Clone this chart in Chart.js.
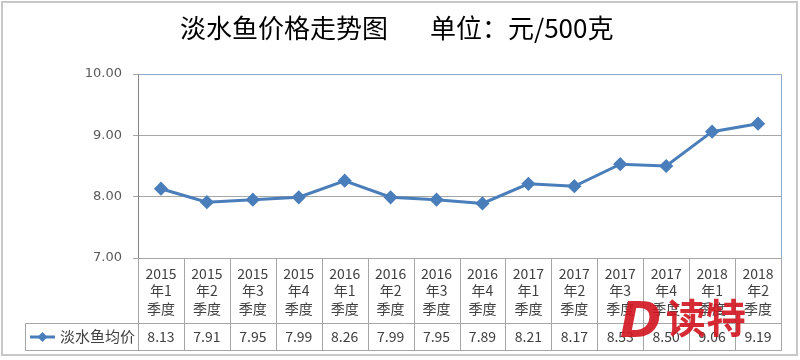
<!DOCTYPE html>
<html>
<head>
<meta charset="utf-8">
<script src="https://cdn.jsdelivr.net/npm/chart.js@4"></script>
<style>
  html, body { margin: 0; padding: 0; background: #fff; }
  #wrap { width: 800px; height: 360px; position: relative; }
</style>
</head>
<body>
<div id="wrap"><canvas id="fishChart" width="800" height="360"></canvas></div>
<script>
// 数据
const years = ['2015', '2015', '2015', '2015', '2016', '2016', '2016', '2016', '2017', '2017', '2017', '2017', '2018', '2018'];
const quarters = ['年1', '年2', '年3', '年4', '年1', '年2', '年3', '年4', '年1', '年2', '年3', '年4', '年1', '年2'];
const seriesName = '淡水鱼均价';
const prices = [8.13, 7.91, 7.95, 7.99, 8.26, 7.99, 7.95, 7.89, 8.21, 8.17, 8.53, 8.50, 9.06, 9.19];
const yTicks = [7, 8, 9, 10];
const titleMain = '淡水鱼价格走势图';
const titleUnit = '单位：元/500克';

const lineColor = '#4A7EBB';
const gridColor = '#A6A6A6';
const textColor = '#404040';
const cjkFont = '"Noto Sans CJK SC", "Noto Sans", sans-serif';

// Plugin: fondo, marco, título, tabla de datos y marca de agua
const tablePlugin = {
  id: 'tablePlugin',
  beforeDraw(chart) {
    const ctx = chart.ctx;
    ctx.save();
    ctx.fillStyle = '#fff';
    ctx.fillRect(0, 0, chart.width, chart.height);
    ctx.restore();
  },
  afterDraw(chart) {
    const ctx = chart.ctx;
    const xs = chart.scales.x;
    const area = chart.chartArea;
    const n = years.length;
    const w = (xs.getPixelForValue(1) - xs.getPixelForValue(0));
    const rowTop = area.bottom;
    const rowMid = 323.5;
    const rowBottom = 350.5;
    const legendLeft = 25.5;

    ctx.save();
    // marco exterior
    ctx.strokeStyle = '#C8C8C8';
    ctx.lineWidth = 2;
    ctx.strokeRect(2, 2, 795, 353);

    // título
    ctx.fillStyle = '#000';
    ctx.font = '26px ' + cjkFont;
    ctx.textAlign = 'left';
    ctx.textBaseline = 'middle';
    ctx.fillText(titleMain, 180, 28);
    ctx.fillText(titleUnit, 430, 28);

    // borde del área
    ctx.strokeStyle = '#8FA9C9';
    ctx.lineWidth = 1;
    ctx.beginPath();
    ctx.moveTo(Math.round(area.left) + 0.5, Math.round(area.top) + 0.5);
    ctx.lineTo(Math.round(area.right) + 0.5, Math.round(area.top) + 0.5);
    ctx.lineTo(Math.round(area.right) + 0.5, Math.round(area.bottom) + 0.5);
    ctx.stroke();

    // tabla
    ctx.strokeStyle = gridColor;
    ctx.beginPath();
    for (let i = 0; i <= n; i++) {
      const bx = Math.round(xs.getPixelForValue(i) - w / 2) + 0.5;
      ctx.moveTo(bx, rowTop);
      ctx.lineTo(bx, rowBottom);
    }
    ctx.moveTo(legendLeft, rowMid);
    ctx.lineTo(Math.round(area.right) + 0.5, rowMid);
    ctx.moveTo(legendLeft, rowBottom);
    ctx.lineTo(Math.round(area.right) + 0.5, rowBottom);
    ctx.moveTo(legendLeft, rowMid);
    ctx.lineTo(legendLeft, rowBottom);
    ctx.stroke();

    ctx.fillStyle = textColor;
    ctx.font = '14px ' + cjkFont;
    ctx.textAlign = 'center';
    ctx.textBaseline = 'middle';
    for (let i = 0; i < n; i++) {
      const cx = xs.getPixelForValue(i);
      ctx.fillText(years[i], cx, 274);
      ctx.fillText(quarters[i], cx, 291);
      ctx.fillText('季度', cx, 309);
      ctx.fillText(prices[i].toFixed(2), cx, 337);
    }

    // leyenda
    ctx.strokeStyle = lineColor;
    ctx.lineWidth = 3;
    ctx.beginPath();
    ctx.moveTo(30, 337);
    ctx.lineTo(55, 337);
    ctx.stroke();
    ctx.fillStyle = lineColor;
    ctx.beginPath();
    ctx.moveTo(42.5, 332);
    ctx.lineTo(47.5, 337);
    ctx.lineTo(42.5, 342);
    ctx.lineTo(37.5, 337);
    ctx.closePath();
    ctx.fill();
    ctx.fillStyle = textColor;
    ctx.font = '15px ' + cjkFont;
    ctx.textAlign = 'left';
    ctx.fillText(seriesName, 60, 336);

    // marca de agua
    ctx.fillStyle = 'rgba(210, 20, 30, 0.9)';
    ctx.font = 'italic 900 50px "DejaVu Sans", sans-serif';
    ctx.textAlign = 'left';
    ctx.textBaseline = 'alphabetic';
    ctx.fillText('D', 620, 337);
    ctx.font = 'bold 40px ' + cjkFont;
    ctx.fillText('读特', 666, 333);
    ctx.restore();
  }
};

const ctx = document.getElementById('fishChart');

new Chart(ctx, {
  type: 'line',
  data: {
    labels: years.map((y, i) => y + quarters[i] + '季度'),
    datasets: [{
      label: seriesName,
      data: prices,
      borderColor: lineColor,
      backgroundColor: lineColor,
      borderWidth: 3,
      pointStyle: 'rectRot',
      pointRadius: 5,
      pointHoverRadius: 5,
      tension: 0
    }]
  },
  options: {
    responsive: false,
    animation: false,
    devicePixelRatio: 1,
    layout: {
      padding: { left: 0, right: 19, top: 74, bottom: 102 }
    },
    plugins: {
      legend: { display: false },
      tooltip: { enabled: false }
    },
    scales: {
      x: {
        display: false,
        offset: true
      },
      y: {
        min: yTicks[0],
        max: yTicks[yTicks.length - 1],
        afterFit(scale) { scale.width = 138; },
        afterBuildTicks(scale) { scale.ticks = yTicks.map(v => ({ value: v })); },
        border: { display: true, color: '#868686', width: 1 },
        grid: {
          color: gridColor,
          tickLength: 5,
          drawTicks: true
        },
        ticks: {
          padding: 11,
          color: '#595959',
          font: { family: 'Verdana, "DejaVu Sans", sans-serif', size: 13 },
          callback: function(value) {
            return Number(value).toFixed(2);
          }
        }
      }
    }
  },
  plugins: [tablePlugin]
});
</script>
</body>
</html>
